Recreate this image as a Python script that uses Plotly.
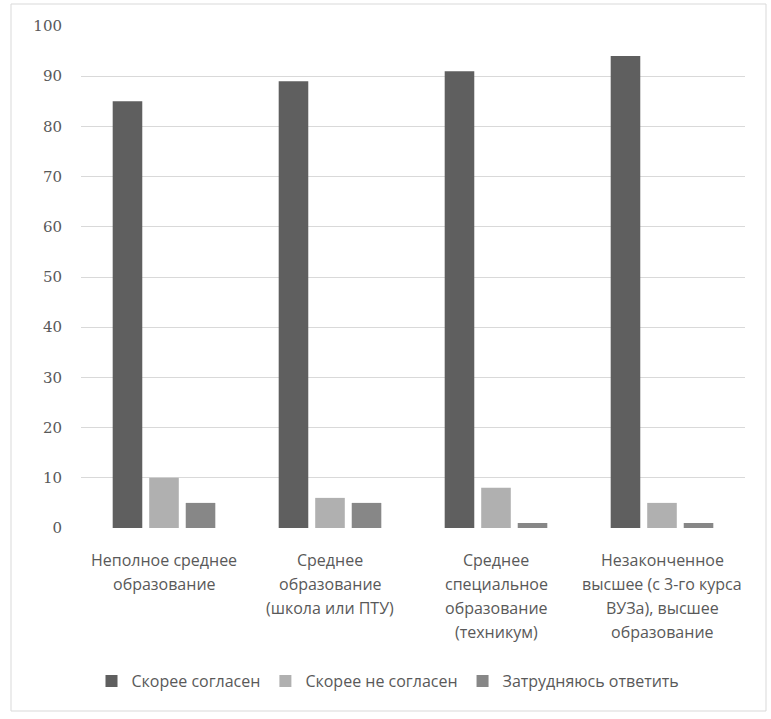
import plotly.graph_objects as go

categories = [
    "Неполное среднее<br>образование",
    "Среднее<br>образование<br>(школа или ПТУ)",
    "Среднее<br>специальное<br>образование<br>(техникум)",
    "Незаконченное<br>высшее (с 3-го курса<br>ВУЗа), высшее<br>образование",
]
series_names = ["Скорее согласен", "Скорее не согласен", "Затрудняюсь ответить"]
agree = [85, 89, 91, 94]
disagree = [10, 6, 8, 5]
unsure = [5, 5, 1, 1]
colors = ["#5f5f5f", "#b0b0b0", "#878787"]
y_ticks = [0, 10, 20, 30, 40, 50, 60, 70, 80, 90, 100]

W, H = 771, 719
L, R, T, B = 81, 26, 26, 191
pw, ph = W - L - R, H - T - B

fig = go.Figure()
for name, vals, c in zip(series_names, [agree, disagree, unsure], colors):
    fig.add_trace(go.Bar(x=list(range(len(categories))), y=vals, name=name,
                         marker=dict(color=c, line=dict(width=0))))

# category labels line by line
line_h = 24
for i, cat in enumerate(categories):
    for j, line in enumerate(cat.split("<br>")):
        fig.add_annotation(x=i, xref="x", y=-(560 - 528 + j * line_h) / ph, yref="paper",
                           text=line, showarrow=False, xanchor="center", yanchor="middle",
                           font=dict(family="Open Sans", size=16, color="#595959"))

# outer border
fig.add_shape(type="rect", xref="paper", yref="paper",
              x0=(11 - L) / pw, x1=(766 - L) / pw,
              y0=(528 - 711) / ph, y1=(528 - 4) / ph,
              line=dict(color="#d9d9d9", width=1), fillcolor="rgba(0,0,0,0)", layer="below")

fig.update_layout(
    width=W, height=H,
    margin=dict(l=L, r=R, t=T, b=B, pad=0),
    paper_bgcolor="white", plot_bgcolor="white",
    barmode="group", bargap=0.34, bargroupgap=0.19,
    showlegend=True,
    legend=dict(orientation="h", x=0.5 - 25 / pw, xanchor="center", y=-(681 - 528) / ph, yanchor="middle",
                font=dict(family="Open Sans", size=16, color="#595959"),
                itemwidth=30, traceorder="normal"),
    xaxis=dict(range=[-0.5, 3.5], showticklabels=False, showgrid=False, zeroline=False,
               showline=False, ticks=""),
    yaxis=dict(range=[0, 100], tickvals=y_ticks, showgrid=True, gridcolor="#d9d9d9", gridwidth=1,
               zeroline=False, showline=False, ticks="", ticklabelstandoff=18,
               tickfont=dict(family="DejaVu Serif", size=15, color="#595959")),
)

fig.write_html("out.html")
